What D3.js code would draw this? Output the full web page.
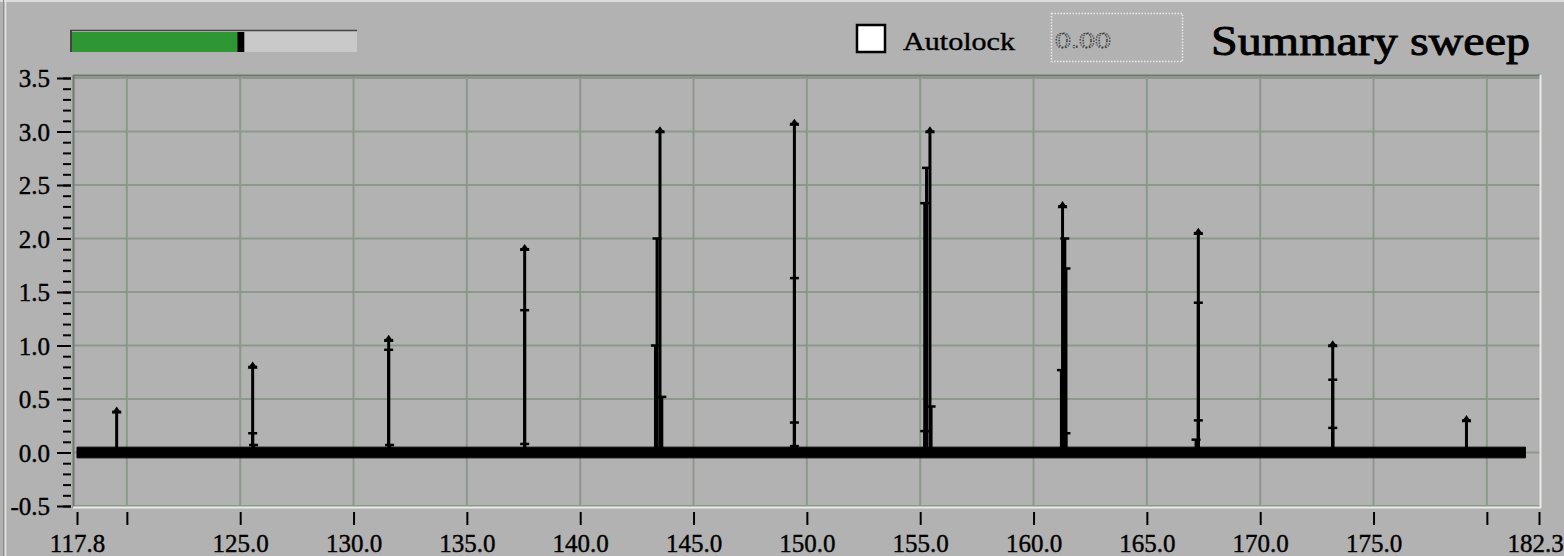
<!DOCTYPE html>
<html>
<head>
<meta charset="utf-8">
<script src="https://cdn.jsdelivr.net/npm/d3@7"></script>
<style>
  html, body { margin: 0; padding: 0; background: #b2b2b2; overflow: hidden; }
  svg { display: block; }
  .tick text { font-family: "Liberation Serif", "DejaVu Serif", serif; fill: #000; stroke: #000; stroke-width: 0.4px; }
</style>
</head>
<body>
<div id="chart"></div>
<script>
'use strict';

// axis setup
var xDomain = [117.8, 182.3];
var yDomain = [-0.5, 3.5];
var xTickValues = [117.8, 120, 125, 130, 135, 140, 145, 150, 155, 160, 165, 170, 175, 180, 182.3];
var xTickLabels = ["117.8", "", "125.0", "130.0", "135.0", "140.0", "145.0", "150.0", "155.0", "160.0", "165.0", "170.0", "175.0", "", "182.3"];
var xGridValues = [120, 125, 130, 135, 140, 145, 150, 155, 160, 165, 170, 175, 180];
var yTickValues = [-0.5, 0.0, 0.5, 1.0, 1.5, 2.0, 2.5, 3.0, 3.5];
var yTickLabels = ["-0.5", "0.0", "0.5", "1.0", "1.5", "2.0", "2.5", "3.0", "3.5"];
var yMinorValues = d3.range(-5, 36).map(function(i) { return i / 10; });

// sweep baseline (noise band)
var baselineX = [117.8, 181.7];
var baselineLow = -0.05;
var baselineHigh = 0.05;

// spikes: centre position and the samples on each one [offset, value]
var peakX = [119.55, 125.55, 131.55, 137.55, 143.52, 149.45, 155.38, 161.33, 167.27, 173.2, 179.1];
var peakSamples = [
  [[0, 0.38]],
  [[0, 0.80], [0, 0.18], [0.04, 0.07]],
  [[0, 1.05], [0, 0.96], [0.04, 0.07]],
  [[0, 1.90], [0, 1.33], [0, 0.08]],
  [[0, 3.00], [-0.13, 2.00], [-0.2, 1.00], [0.08, 0.52]],
  [[0, 3.07], [0, 1.63], [0, 0.28], [0, 0.06]],
  [[0.05, 3.00], [-0.1, 2.66], [-0.18, 2.33], [0.1, 0.43], [-0.18, 0.20]],
  [[-0.05, 2.30], [0.05, 2.00], [0.1, 1.72], [-0.1, 0.77], [0.1, 0.18]],
  [[0, 2.05], [0, 1.40], [0, 0.30], [-0.1, 0.12]],
  [[0, 1.00], [0, 0.68], [0, 0.23]],
  [[0, 0.30]]
];

// top controls
var progressValue = 0.58;
var titleText = "Summary sweep";
var checkboxLabel = "Autolock";
var fieldValue = "0.00";

(function() {
  window.onload = function() {
    var W = 1564, H = 556;
    var svg = d3.select("#chart").append("svg")
        .attr("width", W)
        .attr("height", H);

    svg.append("rect").attr("width", W).attr("height", H).attr("fill", "#b2b2b2");

    // window edges
    svg.append("line").attr("x1", 0).attr("x2", W).attr("y1", 1).attr("y2", 1)
        .attr("stroke", "#dcdcdc").attr("stroke-width", 2);
    svg.append("line").attr("x1", 3.5).attr("x2", 3.5).attr("y1", 0).attr("y2", H)
        .attr("stroke", "#8a8a8a").attr("stroke-width", 1);
    svg.append("line").attr("x1", 5.5).attr("x2", 5.5).attr("y1", 0).attr("y2", H)
        .attr("stroke", "#e2e2e2").attr("stroke-width", 1.5);

    // scales
    var x = d3.scaleLinear().domain(xDomain).range([77, 1539]);
    var y = d3.scaleLinear().domain(yDomain).range([506, 78]);

    // grid
    var grid = svg.append("g");
    grid.selectAll("line.v").data(xGridValues).enter().append("line")
        .attr("x1", function(d) { return x(d); })
        .attr("x2", function(d) { return x(d); })
        .attr("y1", 76).attr("y2", 507)
        .attr("stroke", "#8c988c").attr("stroke-width", 2);
    grid.selectAll("line.h").data(yTickValues).enter().append("line")
        .attr("x1", 74).attr("x2", 1540)
        .attr("y1", function(d) { return y(d); })
        .attr("y2", function(d) { return y(d); })
        .attr("stroke", "#8c988c").attr("stroke-width", 2);

    // plot frame: dark top/left, light bottom/right
    svg.append("line").attr("x1", 73).attr("x2", 1540).attr("y1", 75.5).attr("y2", 75.5)
        .attr("stroke", "#6d7a6d").attr("stroke-width", 2);
    svg.append("line").attr("x1", 73.5).attr("x2", 73.5).attr("y1", 75).attr("y2", 508)
        .attr("stroke", "#6d7a6d").attr("stroke-width", 2);
    svg.append("line").attr("x1", 73).attr("x2", 1541).attr("y1", 507.5).attr("y2", 507.5)
        .attr("stroke", "#e4ece4").attr("stroke-width", 2);
    svg.append("line").attr("x1", 1540.5).attr("x2", 1540.5).attr("y1", 75).attr("y2", 508)
        .attr("stroke", "#e4ece4").attr("stroke-width", 2);

    // y axis, major and minor ticks
    var yAxis = svg.append("g")
        .attr("transform", "translate(71,0)")
        .call(d3.axisLeft(y).tickValues(yTickValues).tickSize(14).tickPadding(7)
          .tickFormat(function(d, i) { return yTickLabels[i]; }));
    svg.append("g")
        .attr("transform", "translate(71,0)")
        .call(d3.axisLeft(y).tickValues(yMinorValues).tickSize(8).tickFormat(""));
    svg.selectAll(".domain").remove();
    yAxis.selectAll("text").style("font-size", "25px").attr("dy", "0.34em");

    // x axis
    var xAxis = svg.append("g")
        .attr("transform", "translate(0,512)")
        .call(d3.axisBottom(x).tickValues(xTickValues).tickSize(13).tickPadding(9)
          .tickFormat(function(d, i) { return xTickLabels[i]; }));
    xAxis.select(".domain").remove();
    xAxis.selectAll("text").style("font-size", "25px");
    // last label sits against the right edge, as in the original
    xAxis.selectAll("text").filter(function(d) { return d === 182.3; }).attr("dx", -4);

    svg.selectAll(".tick line").attr("stroke", "#000").attr("stroke-width", 2);

    // baseline noise band
    var band = d3.area()
        .x(function(d) { return x(d); })
        .y0(y(baselineLow))
        .y1(y(baselineHigh));
    svg.append("path")
        .datum(baselineX)
        .attr("d", band)
        .attr("fill", "#000")
        .attr("stroke", "#000")
        .attr("stroke-width", 1);

    // spikes
    var spikes = svg.selectAll("g.spike")
        .data(peakX.map(function(px, i) { return { x: px, s: peakSamples[i] }; }))
        .enter().append("g");

    spikes.each(function(d) {
      var g = d3.select(this);
      var top = d3.max(d.s, function(s) { return s[1]; });
      d.s.forEach(function(s) {
        var sx = x(d.x + s[0]);
        g.append("line")
            .attr("x1", sx).attr("x2", sx)
            .attr("y1", y(0)).attr("y2", y(s[1]))
            .attr("stroke", "#000").attr("stroke-width", 3);
        // sample marker
        g.append("line")
            .attr("x1", sx - 4.5).attr("x2", sx + 4.5)
            .attr("y1", y(s[1])).attr("y2", y(s[1]))
            .attr("stroke", "#000").attr("stroke-width", 2.5);
        if (s[1] === top) {
          g.append("path")
              .attr("d", "M" + (sx - 3.5) + "," + (y(s[1]) + 1) + "L" + sx + "," + (y(s[1]) - 4) +
                         "L" + (sx + 3.5) + "," + (y(s[1]) + 1) + "Z")
              .attr("fill", "#000").attr("stroke", "#000").attr("stroke-width", 1.5);
        }
      });
    });

    // progress bar
    var bar = d3.scaleLinear().domain([0, 1]).range([72, 357]);
    svg.append("rect").attr("x", 70).attr("y", 30).attr("width", 287).attr("height", 22)
        .attr("fill", "#c9c9c9");
    svg.append("rect").attr("x", 72).attr("y", 32).attr("width", bar(progressValue) - 72).attr("height", 20)
        .attr("fill", "#2e9633");
    svg.append("rect").attr("x", bar(progressValue)).attr("y", 32).attr("width", 7).attr("height", 20)
        .attr("fill", "#000");
    svg.append("line").attr("x1", 70).attr("x2", 357).attr("y1", 30.5).attr("y2", 30.5)
        .attr("stroke", "#444").attr("stroke-width", 1.5);
    svg.append("line").attr("x1", 71).attr("x2", 71).attr("y1", 30).attr("y2", 52)
        .attr("stroke", "#444").attr("stroke-width", 2);

    // checkbox
    svg.append("rect").attr("x", 857).attr("y", 25).attr("width", 28).attr("height", 27)
        .attr("fill", "#fff").attr("stroke", "#000").attr("stroke-width", 2.5);
    svg.append("text").attr("x", 903).attr("y", 50)
        .attr("textLength", 112).attr("lengthAdjust", "spacingAndGlyphs")
        .style("font-family", "'Liberation Serif', serif").style("font-size", "25px")
        .attr("stroke", "#000").attr("stroke-width", 0.4)
        .text(checkboxLabel);

    // disabled numeric field
    svg.append("rect").attr("x", 1051.5).attr("y", 13.5).attr("width", 131).attr("height", 48)
        .attr("fill", "none").attr("stroke", "#ececec").attr("stroke-width", 1.5)
        .attr("stroke-dasharray", "1.5,1.5");
    svg.append("text").attr("x", 1055).attr("y", 48)
        .attr("textLength", 56).attr("lengthAdjust", "spacingAndGlyphs")
        .style("font-family", "'Liberation Serif', serif").style("font-size", "24px")
        .attr("fill", "none").attr("stroke", "#333").attr("stroke-width", 1.1)
        .attr("stroke-dasharray", "1.2,1.3")
        .text(fieldValue);

    // title
    svg.append("text").attr("x", 1211).attr("y", 55)
        .attr("textLength", 319).attr("lengthAdjust", "spacingAndGlyphs")
        .style("font-family", "'Liberation Serif', serif").style("font-size", "43px")
        .attr("stroke", "#000").attr("stroke-width", 0.9)
        .text(titleText);
  };
})();
</script>
</body>
</html>
